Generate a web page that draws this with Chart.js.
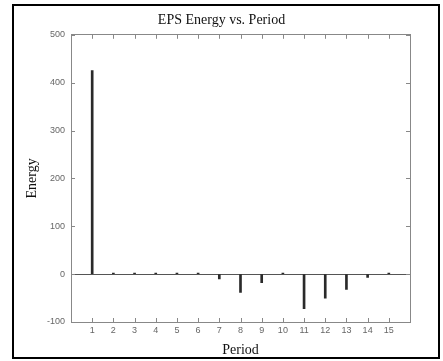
<!DOCTYPE html>
<html>
<head>
<meta charset="utf-8">
<script src="https://cdn.jsdelivr.net/npm/chart.js@4"></script>
<style>
  body { margin: 0; background: #fff; }
  #wrap { position: relative; width: 443px; height: 361px; }
  #marco { position: absolute; left: 12px; top: 4px; width: 428px; height: 355px; border: 2px solid #000; box-sizing: border-box; pointer-events: none; }
  canvas { position: absolute; left: 0; top: 0; }
</style>
</head>
<body>
<div id="wrap">
  <canvas id="grafico" width="443" height="361"></canvas>
  <div id="marco"></div>
</div>
<script>
// Datos
const periodos = [1, 2, 3, 4, 5, 6, 7, 8, 9, 10, 11, 12, 13, 14, 15];
const energia = [425, 2, 2, 2, 2, 2, -10, -38, -18, 2, -72, -50, -32, -7, 2];
const ticksY = [-100, 0, 100, 200, 300, 400, 500];

// Ticks hacia adentro (estilo MATLAB)
const ticksAdentro = {
  id: 'ticksAdentro',
  afterDraw(chart) {
    const ctx = chart.ctx;
    const a = chart.chartArea;
    const sx = chart.scales.x;
    const sy = chart.scales.y;
    ctx.save();
    ctx.strokeStyle = '#888';
    ctx.lineWidth = 1;
    ctx.beginPath();
    periodos.forEach(p => {
      const px = Math.round(sx.getPixelForValue(p)) + 0.5;
      ctx.moveTo(px, a.bottom); ctx.lineTo(px, a.bottom - 4);
      ctx.moveTo(px, a.top); ctx.lineTo(px, a.top + 4);
    });
    ticksY.forEach(v => {
      const py = Math.round(sy.getPixelForValue(v)) + 0.5;
      ctx.moveTo(a.left, py); ctx.lineTo(a.left + 4, py);
      ctx.moveTo(a.right, py); ctx.lineTo(a.right - 4, py);
    });
    ctx.stroke();
    ctx.restore();
  }
};

const ctx = document.getElementById('grafico').getContext('2d');
const chart = new Chart(ctx, {
  type: 'bar',
  data: {
    datasets: [{
      label: 'Energy',
      data: periodos.map((p, i) => ({ x: p, y: energia[i] })),
      backgroundColor: '#2a2a2a',
      borderWidth: 0,
      barThickness: 2
    }]
  },
  options: {
    responsive: false,
    animation: false,
    layout: { padding: 0 },
    plugins: {
      legend: { display: false },
      tooltip: { enabled: false },
      title: {
        display: true,
        text: 'EPS Energy vs. Period',
        color: '#111',
        font: { family: 'Liberation Serif', size: 14, weight: 'normal' },
        padding: { top: 12, bottom: 6 }
      }
    },
    scales: {
      x: {
        type: 'linear',
        position: 'bottom',
        offset: false,
        min: 0,
        max: 16,
        afterBuildTicks: s => { s.ticks = periodos.map(v => ({ value: v })); },
        ticks: { color: '#666', font: { family: 'Liberation Sans', size: 9 }, padding: 3, maxRotation: 0, autoSkip: false },
        grid: { display: false, drawTicks: false, offset: false },
        border: { display: true, color: '#888', width: 1 },
        title: {
          display: true,
          text: 'Period',
          color: '#111',
          font: { family: 'Liberation Serif', size: 14 },
          padding: { top: 0, bottom: 2 }
        },
        afterFit: s => { s.height = 39; }
      },
      x2: {
        type: 'linear',
        position: 'top',
        offset: false,
        min: 0,
        max: 16,
        ticks: { display: false },
        grid: { display: false, drawTicks: false, offset: false },
        border: { display: true, color: '#888', width: 1 },
        afterFit: s => { s.height = 0; }
      },
      y: {
        type: 'linear',
        position: 'left',
        min: -100,
        max: 500,
        afterBuildTicks: s => { s.ticks = ticksY.map(v => ({ value: v })); },
        ticks: { color: '#666', font: { family: 'Liberation Sans', size: 9 }, padding: 6 },
        grid: {
          drawTicks: false,
          color: c => (c.tick && c.tick.value === 0) ? '#555' : 'rgba(0,0,0,0)',
          lineWidth: 1
        },
        border: { display: true, color: '#888', width: 1 },
        title: {
          display: true,
          text: 'Energy',
          color: '#111',
          font: { family: 'Liberation Serif', size: 14 },
          padding: { top: 24, bottom: 0 }
        },
        afterFit: s => { s.width = 71; }
      },
      y2: {
        type: 'linear',
        position: 'right',
        min: -100,
        max: 500,
        ticks: { display: false },
        grid: { display: false, drawTicks: false },
        border: { display: true, color: '#888', width: 1 },
        afterFit: s => { s.width = 33; }
      }
    }
  },
  plugins: [ticksAdentro]
});
</script>
</body>
</html>
